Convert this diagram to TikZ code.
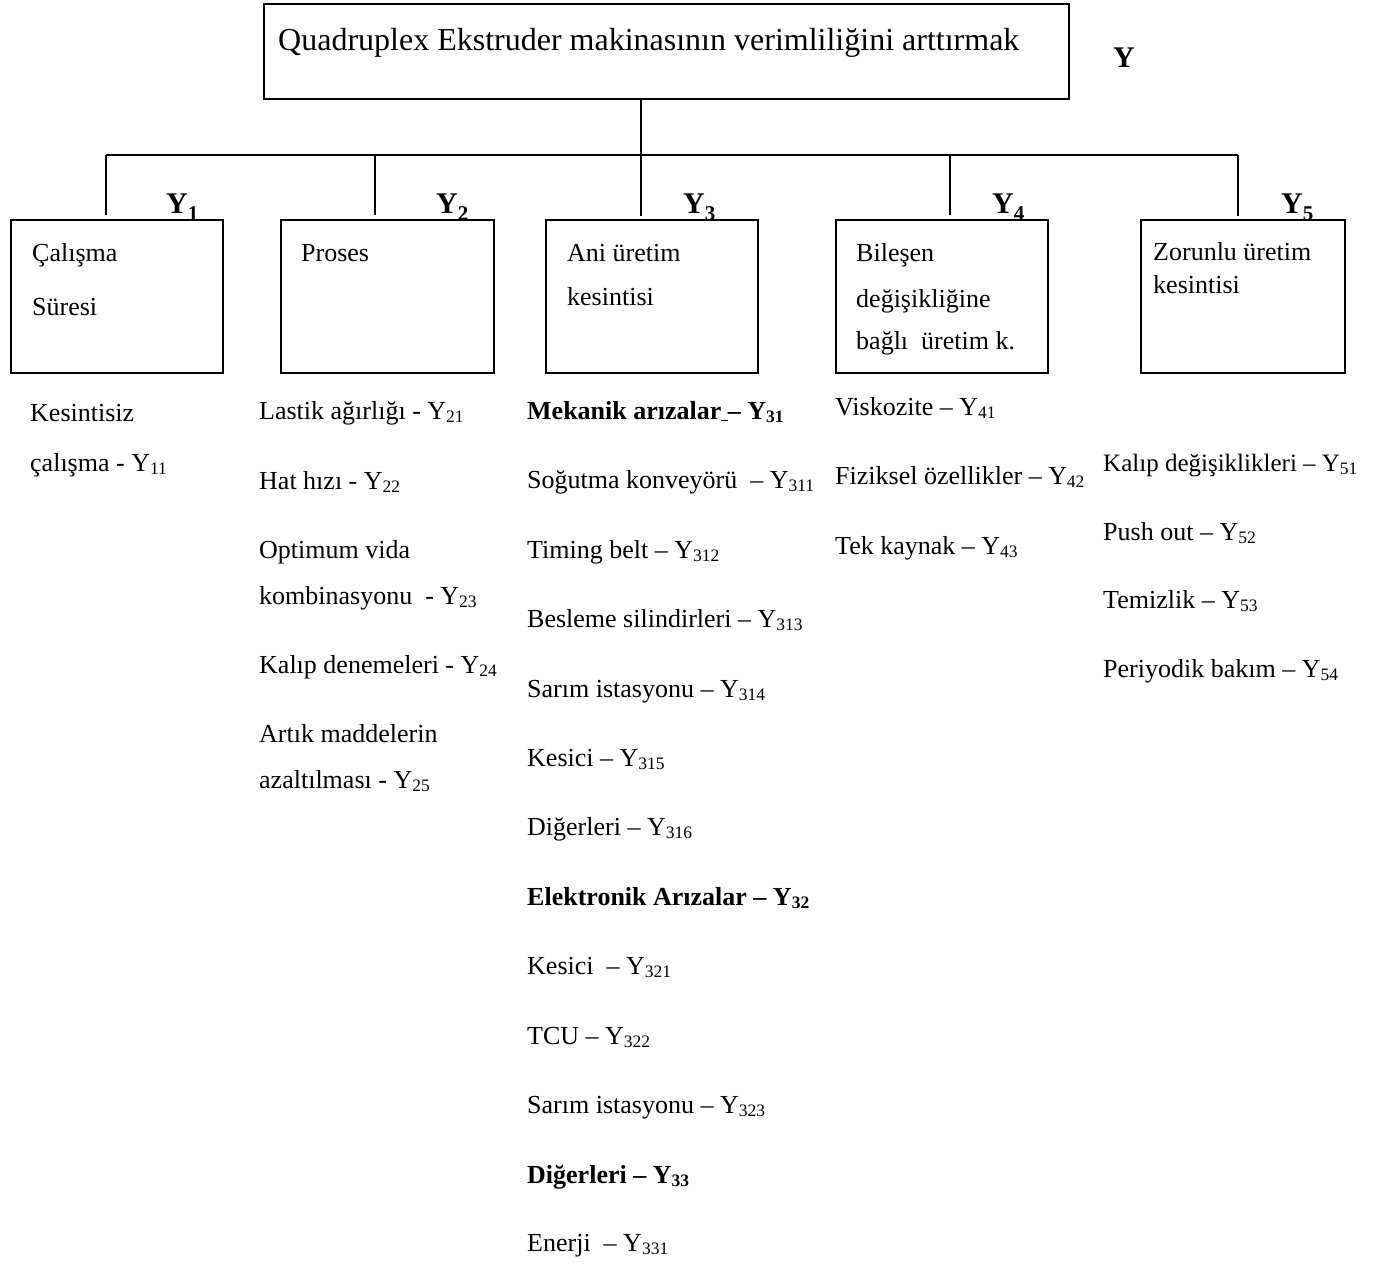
\documentclass[tikz,border=0pt]{standalone}
\usepackage{fontspec}
\setmainfont{Liberation Serif}
\newcommand{\bodyfont}{\fontsize{26}{30}\selectfont}
\newcommand{\titlefont}{\fontsize{32}{38}\selectfont}
\newcommand{\ylabfont}{\fontsize{30}{34}\selectfont\bfseries}
\newcommand{\sbs}[1]{\raisebox{-3.5pt}{\fontsize{17.5}{18}\selectfont #1}}
\newcommand{\sbb}[1]{\raisebox{-3.5pt}{\fontsize{17.5}{18}\selectfont\bfseries #1}}
\newcommand{\syl}[1]{\raisebox{-6.5pt}{\fontsize{21}{22}\selectfont\bfseries #1}}
\begin{document}
\begin{tikzpicture}[x=1pt,y=-1pt,
  box/.style={draw, line width=1.6pt, fill=white, inner sep=0pt, anchor=north west},
  conn/.style={line width=1.3pt},
  txt/.style={anchor=base west, inner sep=0pt, font=\bodyfont},
  ylab/.style={anchor=base west, inner sep=0pt, font=\ylabfont}]
\useasboundingbox (0,0) rectangle (1390,1265);

% Y labels (drawn first so that boxes clip subscripts)
\node[ylab] (Y)  at (1113,68)  {Y};
\node[ylab] (Y1) at (166,214) {Y\syl{1}};
\node[ylab] (Y2) at (436,214) {Y\syl{2}};
\node[ylab] (Y3) at (683,214) {Y\syl{3}};
\node[ylab] (Y4) at (992,214) {Y\syl{4}};
\node[ylab] (Y5) at (1281,214) {Y\syl{5}};

% boxes
\node[box, minimum width=805pt, minimum height=95pt] (top) at (263,3) {};
\node[box, minimum width=212pt, minimum height=153pt] (b1) at (10,219) {};
\node[box, minimum width=213pt, minimum height=153pt] (b2) at (280,219) {};
\node[box, minimum width=212pt, minimum height=153pt] (b3) at (545,219) {};
\node[box, minimum width=212pt, minimum height=153pt] (b4) at (835,219) {};
\node[box, minimum width=204pt, minimum height=153pt] (b5) at (1140,219) {};

% connectors
\coordinate (jc) at (641,155);
\coordinate (h1) at (106,155);
\coordinate (h2) at (375,155);
\coordinate (h4) at (950,155);
\coordinate (h5) at (1238,155);
\draw[conn] (top.south -| jc) -- ([yshift=3pt]b3.north -| jc);
\draw[conn] (h1) -- (h5);
\draw[conn] (h1) -- ([yshift=4pt]b1.north -| h1);
\draw[conn] (h2) -- ([yshift=4pt]b2.north -| h2);
\draw[conn] (h4) -- ([yshift=4pt]b4.north -| h4);
\draw[conn] (h5) -- ([yshift=3pt]b5.north -| h5);

% title text
\node[anchor=base west, inner sep=0pt, font=\titlefont] (tt) at (278,51) {Quadruplex Ekstruder makinasının verimliliğini arttırmak};

% box texts
\node[txt] (b1a) at (32,262) {Çalışma};
\node[txt] (b1b) at (32,316) {Süresi};
\node[txt] (b2a) at (301,262) {Proses};
\node[txt] (b3a) at (567,262) {Ani üretim};
\node[txt] (b3b) at (567,306) {kesintisi};
\node[txt] (b4a) at (856,262) {Bileşen};
\node[txt] (b4b) at (856,308) {değişikliğine};
\node[txt] (b4c) at (856,350) {bağlı\ \ üretim k.};
\node[txt] (b5a) at (1153,261) {Zorunlu üretim};
\node[txt] (b5b) at (1153,294) {kesintisi};

% column 1
\node[txt] (c1a) at (30,421) {Kesintisiz};
\node[txt] (c1b) at (30,471) {çalışma - Y\sbs{11}};

% column 2
\node[txt] (c2a) at (259,419) {Lastik ağırlığı - Y\sbs{21}};
\node[txt] (c2b) at (259,489) {Hat hızı - Y\sbs{22}};
\node[txt] (c2c) at (259,558) {Optimum vida};
\node[txt] (c2d) at (259,604) {kombinasyonu\ \ - Y\sbs{23}};
\node[txt] (c2e) at (259,673) {Kalıp denemeleri - Y\sbs{24}};
\node[txt] (c2f) at (259,742) {Artık maddelerin};
\node[txt] (c2g) at (259,788) {azaltılması - Y\sbs{25}};

% column 3
\node[txt] (c3a) at (527,419) {\bfseries Mekanik arızalar\underline{\ }– Y\sbb{31}};
\node[txt] (c3b) at (527,488) {Soğutma konveyörü\ \ – Y\sbs{311}};
\node[txt] (c3c) at (527,558) {Timing belt – Y\sbs{312}};
\node[txt] (c3d) at (527,627) {Besleme silindirleri – Y\sbs{313}};
\node[txt] (c3e) at (527,697) {Sarım istasyonu – Y\sbs{314}};
\node[txt] (c3f) at (527,766) {Kesici – Y\sbs{315}};
\node[txt] (c3g) at (527,835) {Diğerleri – Y\sbs{316}};
\node[txt] (c3h) at (527,905) {\bfseries Elektronik Arızalar – Y\sbb{32}};
\node[txt] (c3i) at (527,974) {Kesici\ \ – Y\sbs{321}};
\node[txt] (c3j) at (527,1044) {TCU – Y\sbs{322}};
\node[txt] (c3k) at (527,1113) {Sarım istasyonu – Y\sbs{323}};
\node[txt] (c3l) at (527,1183) {\bfseries Diğerleri – Y\sbb{33}};
\node[txt] (c3m) at (527,1251) {Enerji\ \ – Y\sbs{331}};

% column 4
\node[txt] (c4a) at (835,415) {Viskozite – Y\sbs{41}};
\node[txt] (c4b) at (835,484) {Fiziksel özellikler – Y\sbs{42}};
\node[txt] (c4c) at (835,554) {Tek kaynak – Y\sbs{43}};

% column 5
\node[txt, font=\fontsize{25}{30}\selectfont] (c5a) at (1103,471) {Kalıp değişiklikleri – Y\sbs{51}};
\node[txt] (c5b) at (1103,540) {Push out – Y\sbs{52}};
\node[txt] (c5c) at (1103,608) {Temizlik – Y\sbs{53}};
\node[txt] (c5d) at (1103,677) {Periyodik bakım – Y\sbs{54}};
\end{tikzpicture}
\end{document}
